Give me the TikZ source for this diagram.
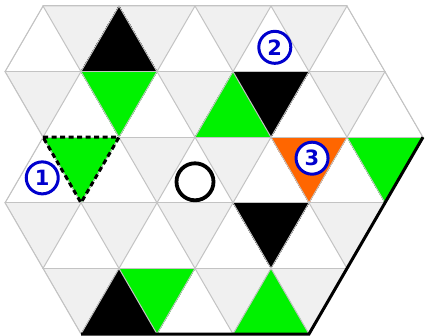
\documentclass[tikz,border=0pt]{standalone}
\usepackage{fontspec}
\setsansfont{DejaVu Sans}
\usetikzlibrary{positioning}
\definecolor{gridline}{RGB}{195,195,195}
\definecolor{cellgray}{RGB}{240,240,240}
\definecolor{boardgreen}{RGB}{0,242,0}
\definecolor{boardorange}{RGB}{255,102,0}
\definecolor{tagblue}{RGB}{0,0,205}
\newcommand{\uptri}[3]{\fill[#3] (#1,#2) -- ++(-1,1) -- ++(2,0) -- cycle;}
\newcommand{\dntri}[3]{\fill[#3] ({#1-1},#2) -- ++(2,0) -- ++(-1,1) -- cycle;}

\begin{document}
\begin{tikzpicture}[x=38pt, y=-65.6pt,
      lat/.style={draw=gridline, line width=1pt},
      rim/.style={draw=black, line width=3pt, line join=miter},
      sel/.style={draw=black, line width=3pt, dash pattern=on 5pt off 3.5pt},
      tag/.style={circle, draw=tagblue, fill=white, line width=3pt, text=tagblue,
                  inner sep=0pt, minimum size=32pt,
                  font=\sffamily\bfseries\fontsize{21}{21}\selectfont},
      ring/.style={circle, draw=black, line width=3.8pt, inner sep=0pt, minimum size=37pt}]
    \useasboundingbox (-5pt,6pt) rectangle (420pt,-330pt);
    \begin{scope}
      \clip (1,0) -- (9,0) -- (10,1) -- (11,2) -- (8,5) -- (2,5) -- (1,4) -- (0,3) -- (1,2) -- (0,1) -- cycle;
      \fill[white] (-1,0) rectangle (12,5);
      \foreach \k in {0,...,4}
        \foreach \m in {0,2,...,12}
          \dntri{\m+mod(\k,2)}{\k}{cellgray}
      \uptri{3}{0}{black}
      \dntri{3}{1}{boardgreen}
      \uptri{6}{1}{boardgreen}
      \dntri{7}{1}{black}
      \dntri{2}{2}{boardgreen}
      \dntri{8}{2}{boardorange}
      \dntri{10}{2}{boardgreen}
      \dntri{7}{3}{black}
      \uptri{3}{4}{black}
      \dntri{4}{4}{boardgreen}
      \uptri{7}{4}{boardgreen}
      \foreach \k in {0,...,5}
        \draw[lat] (-1,\k) -- (12,\k);
      \foreach \m in {-9,-7,...,11}
        \draw[lat] (\m,0) -- ++(5,5);
      \foreach \m in {1,3,...,17}
        \draw[lat] (\m,0) -- ++(-5,5);
    \end{scope}
    \draw[lat] (2,5) -- (1,4) -- (0,3) -- (1,2) -- (0,1) -- (1,0) -- (9,0) -- (10,1) -- (11,2);
    \draw[rim] (11,2) -- (8,5) -- (2,5);
    \draw[sel] (1,2) -- (3,2) -- (2,3) -- cycle;
    \node[ring] (hole) at (5,2.68) {};
    \node[tag] (one) at (0.98,2.62) {1};
    \node[tag] (two) at (7.1,0.63) {2};
    \node[tag] (three) at (8.08,2.32) {3};
  \end{tikzpicture}
\end{document}
